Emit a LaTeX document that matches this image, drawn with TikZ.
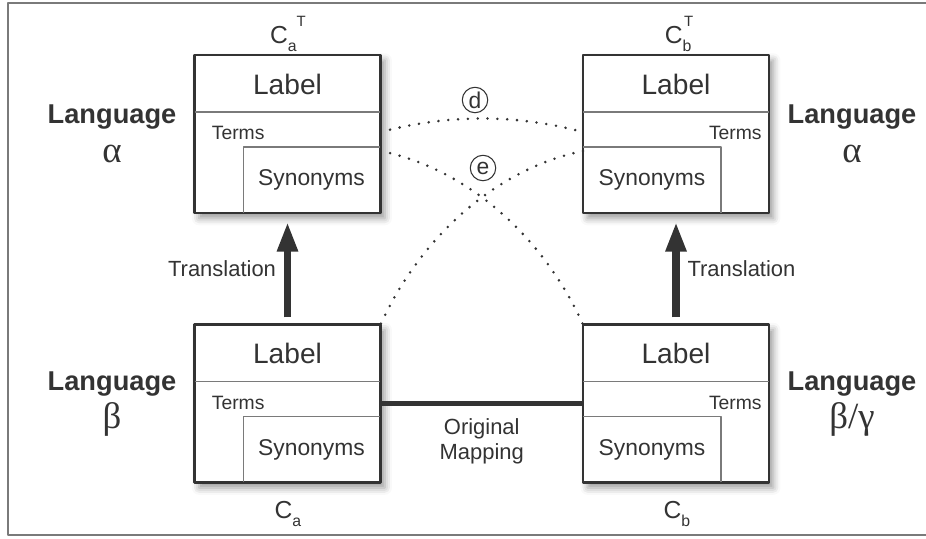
\documentclass[tikz,border=0pt]{standalone}
\usepackage{fontspec}
\setmainfont{Liberation Sans}
\newfontfamily\greekfont{Liberation Serif}
\usetikzlibrary{calc,arrows.meta,shadows.blur}
\definecolor{ink}{HTML}{333333}
\definecolor{rulegray}{HTML}{7A7A7A}
\newcommand\grk[1]{{\greekfont\mdseries\fontsize{21}{21}\selectfont #1}}
\tikzset{
	concept/.style={draw=ink, line width=1.2pt, fill=white, minimum width=3.72cm, minimum height=3.16cm, inner sep=0pt, outer sep=0pt,
		blur shadow={shadow xshift=2.5pt, shadow yshift=-3pt, shadow blur radius=4pt, shadow opacity=40}},
	inner rule/.style={rulegray, line width=0.6pt},
	labeltext/.style={text=ink, font=\fontsize{16}{18}\selectfont},
	termtext/.style={text=ink, font=\fontsize{11}{13}\selectfont, inner sep=0pt},
	syntext/.style={text=ink, font=\fontsize{13}{15}\selectfont},
	lang/.style={text=ink, align=center, font=\fontsize{15.5}{22}\selectfont\bfseries},
	ctext/.style={text=ink, font=\fontsize{14}{16}\selectfont},
	plain/.style={text=ink, font=\fontsize{12.5}{14.5}\selectfont},
	transl/.style={ink, line width=4.5pt, -{Triangle[width=11pt,length=17pt]}, shorten >=5pt, shorten <=4pt},
	dots/.style={ink, line width=1.6pt, line cap=round, dash pattern=on 0pt off 5.6pt},
	ringlabel/.style={draw=ink, circle, line width=0.6pt, minimum size=14.5pt, inner sep=0pt, text=ink, font=\fontsize{13}{13}\selectfont}
}
\begin{document}
\begin{tikzpicture}[x=0.02cm, y=-0.02cm, line join=round, >=stealth]
	\useasboundingbox (0,0) rectangle (926,538);
	\draw[rulegray, line width=1pt] (926,3) -- (8,3) -- (8,535) -- (926,535);
	% the four concept boxes
	\node[concept] (caT) at (287.5,134) {};
	\node[concept] (cbT) at (676,134) {};
	\node[concept] (ca) at (287.5,403.5) {};
	\node[concept] (cb) at (676,403.5) {};
	\foreach \b in {caT,ca}{
		\draw[inner rule] ($(\b.north west)+(0,57)$) -- ($(\b.north east)+(0,57)$);
		\draw[inner rule] ($(\b.south west)+(49,0)$) |- ($(\b.north east)+(0,92)$);
		\node[labeltext] (\b-label) at ($(\b.north)+(0,29)$) {Label};
		\node[termtext, anchor=west] (\b-terms) at ($(\b.north west)+(17,78)$) {Terms};
		\node[syntext] (\b-syn) at ($(\b.north east)+(-69,125)$) {Synonyms};
	}
	\foreach \b in {cbT,cb}{
		\draw[inner rule] ($(\b.north west)+(0,57)$) -- ($(\b.north east)+(0,57)$);
		\draw[inner rule] ($(\b.south east)+(-48,0)$) |- ($(\b.north west)+(0,92)$);
		\node[labeltext] (\b-label) at ($(\b.north)+(0,29)$) {Label};
		\node[termtext, anchor=east] (\b-terms) at ($(\b.north east)+(-7,78)$) {Terms};
		\node[syntext] (\b-syn) at ($(\b.north west)+(69,125)$) {Synonyms};
	}
	% names of the boxes
	\node[ctext] (caT-name) at (288,34) {C\raisebox{-.6ex}{\fontsize{9}{9}\selectfont a}\raisebox{1.3ex}{\fontsize{8.5}{9}\selectfont T}};
	\node[ctext] (cbT-name) at (679,34) {C\raisebox{-.6ex}{\fontsize{9}{9}\selectfont b}\kern-.3em\raisebox{1.3ex}{\fontsize{8.5}{9}\selectfont T}};
	\node[ctext] (ca-name) at (288,514) {C\raisebox{-.6ex}{\fontsize{9}{9}\selectfont a}};
	\node[ctext] (cb-name) at (677,514) {C\raisebox{-.6ex}{\fontsize{9}{9}\selectfont b}};
	% languages
	\node[lang] (lang-caT) at (112,134) {Language\\\grk{α}};
	\node[lang] (lang-cbT) at (852,134) {Language\\\grk{α}};
	\node[lang] (lang-ca) at (112,404) {Language\\\grk{β}};
	\node[lang] (lang-cb) at (852,404) {Language\\\grk{β/γ}};
	% connectors
	\draw[transl] (ca.north) -- (caT.south) node[plain, midway, left=1pt] (tr-a) {Translation};
	\draw[transl] (cb.north) -- (cbT.south) node[plain, midway, right=1pt] (tr-b) {Translation};
	\draw[ink, line width=2.3pt] (ca.east) -- (cb.west) node[plain, midway, below=4pt, align=center] (orig) {Original\\Mapping};
	\draw[dots] ($(caT.north east)+(0,77)$) .. controls (450,114) and (515,114) .. ($(cbT.north west)+(0,77)$);
	\draw[dots] ($(caT.north east)+(0,96)$) .. controls (465,168) and (542,234) .. (cb.north west);
	\draw[dots] ($(cbT.north west)+(0,96)$) .. controls (499,168) and (422,234) .. (ca.north east);
	\node[ringlabel] (d) at (475,100) {d};
	\node[ringlabel] (e) at (483,168) {e};
\end{tikzpicture}
\end{document}
